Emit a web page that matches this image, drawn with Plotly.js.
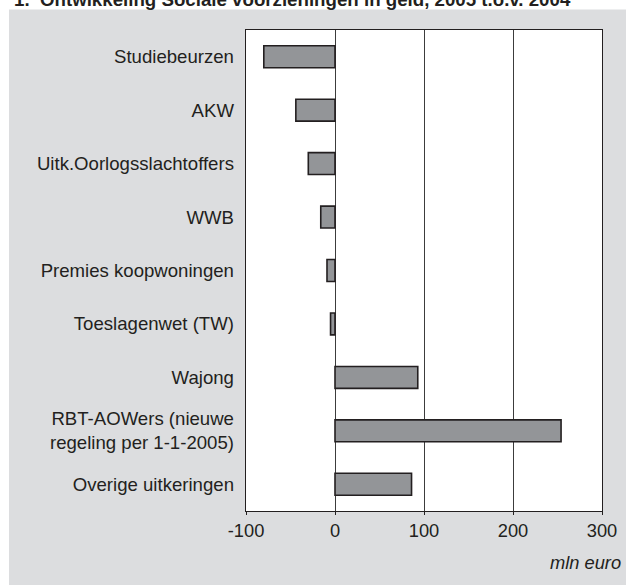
<!DOCTYPE html>
<html>
<head>
<meta charset="utf-8">
<script src="https://cdn.plot.ly/plotly-3.0.1.min.js"></script>
<style>html,body{margin:0;padding:0;background:#fff;}</style>
</head>
<body>
<div id="chart" style="width:626px;height:585px;"></div>
<script>
const categories = [
  "Studiebeurzen",
  "AKW",
  "Uitk.Oorlogsslachtoffers",
  "WWB",
  "Premies koopwoningen",
  "Toeslagenwet (TW)",
  "Wajong",
  "RBT-AOWers (nieuwe<br>regeling per 1-1-2005)",
  "Overige uitkeringen"
];
const values = [-80, -44, -30, -16, -9, -5, 93, 254, 86];
const xTickValues = [-100, 0, 100, 200, 300];
const xTickLabels = ["-100", "0", "100", "200", "300"];
const titleText = "1.  Ontwikkeling Sociale voorzieningen in geld, 2005 t.o.v. 2004";
const unitText = "mln euro";

const W = 626, H = 585;
const mL = 246, mR = 24, mT = 30, mB = 74;
const pw = W - mL - mR, ph = H - mT - mB;
const px = x => (x - mL) / pw;
const py = y => (H - mB - y) / ph;

const font = "Liberation Sans, Arial, Helvetica, sans-serif";
const ink = "#231f20";

const trace = {
  type: "bar",
  orientation: "h",
  y: categories,
  x: values,
  width: 0.41,
  marker: { color: "#939598", line: { color: ink, width: 1.6 } },
  hoverinfo: "x+y"
};

const layout = {
  width: W, height: H,
  margin: { l: mL, r: mR, t: mT, b: mB, pad: 0 },
  paper_bgcolor: "#ffffff",
  plot_bgcolor: "#ffffff",
  showlegend: false,
  font: { family: font, size: 18.6, color: ink },
  xaxis: {
    range: [-100, 300],
    tickvals: xTickValues,
    ticktext: xTickLabels,
    showgrid: true, gridcolor: "#3c3c3c", gridwidth: 1,
    zeroline: true, zerolinecolor: "#3c3c3c", zerolinewidth: 1,
    showline: true, linecolor: ink, linewidth: 1.3, mirror: true,
    ticks: "outside", ticklen: 3, tickcolor: ink, tickwidth: 1,
    tickfont: { family: font, size: 18.3, color: ink },
    fixedrange: true
  },
  yaxis: {
    type: "category",
    categoryorder: "array",
    categoryarray: categories,
    range: [categories.length - 0.5, -0.5],
    showgrid: false, zeroline: false,
    showline: true, linecolor: ink, linewidth: 1.3, mirror: true,
    ticks: "outside", ticklen: 7, tickcolor: "rgba(0,0,0,0)",
    tickfont: { family: font, size: 18.6, color: ink },
    fixedrange: true
  },
  shapes: [
    { type: "rect", xref: "paper", yref: "paper", layer: "below",
      x0: px(9), x1: px(W + 5), y0: py(H + 5), y1: py(9.5),
      fillcolor: "#dcdddf", line: { width: 0 } },
    { type: "rect", xref: "paper", yref: "paper", layer: "below",
      x0: 0, x1: 1, y0: 0, y1: 1,
      fillcolor: "#ffffff", line: { width: 0 } }
  ],
  annotations: [
    { text: "<b>" + titleText + "</b>", xref: "paper", yref: "paper",
      x: px(12), y: py(-0.6), xanchor: "left", yanchor: "middle",
      showarrow: false, font: { family: font, size: 18.7, color: ink } },
    { text: "<i>" + unitText + "</i>", xref: "paper", yref: "paper",
      x: px(623), y: py(562.7), xanchor: "right", yanchor: "middle",
      showarrow: false, font: { family: font, size: 18.3, color: ink } }
  ]
};

Plotly.newPlot("chart", [trace], layout, { displayModeBar: false, staticPlot: true });
</script>
</body>
</html>
